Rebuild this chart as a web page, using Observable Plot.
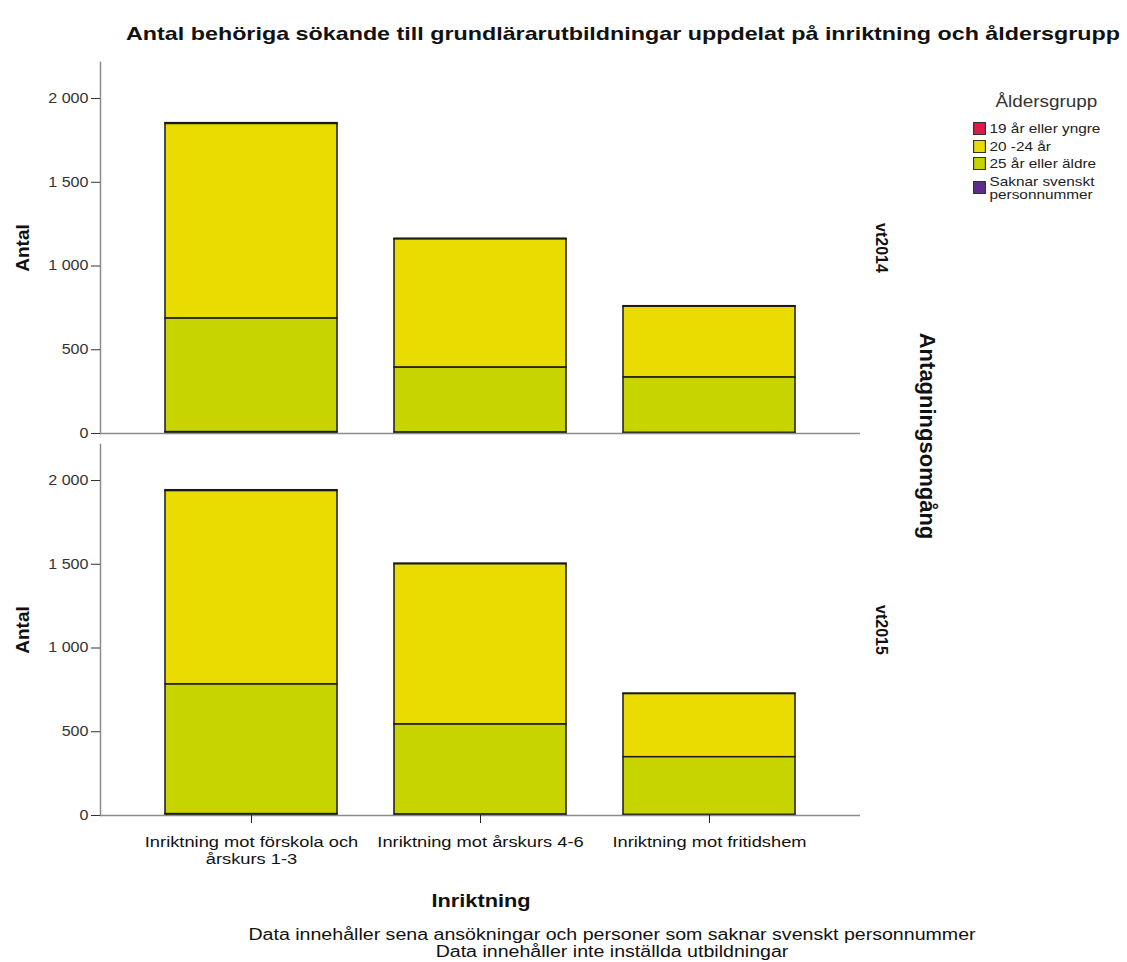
<!DOCTYPE html>
<html><head><meta charset="utf-8">
<script src="https://cdn.jsdelivr.net/npm/d3@7"></script>
<script src="https://cdn.jsdelivr.net/npm/@observablehq/plot@0.6"></script>
<style>
body{margin:0;background:#fff;font-family:"Liberation Sans",Arial,sans-serif;color:#111;}
#wrap{position:relative;width:1127px;height:962px;overflow:hidden;}
#chart{position:absolute;left:0;top:0;}
.abs{position:absolute;white-space:nowrap;}
.leg{position:absolute;left:973px;top:93px;font-size:13px;color:#222;transform:scaleX(1.18);transform-origin:left top;}
.leg .t{font-size:16px;margin-left:19px;margin-bottom:11px;color:#333;}
.leg .it{display:flex;align-items:center;line-height:13px;margin-bottom:4.5px;}
.leg .sw{width:9px;height:11px;border:1px solid #333;margin-right:3px;flex:none;}
</style></head><body><div id="wrap"><div id="chart"></div></div>
<script>
const rounds = ["vt2014", "vt2015"];
const inriktningar = ["Inriktning mot förskola och årskurs 1-3", "Inriktning mot årskurs 4-6", "Inriktning mot fritidshem"];
const tickLabels = ["Inriktning mot förskola och\nårskurs 1-3", "Inriktning mot årskurs 4-6", "Inriktning mot fritidshem"];
const groups = ["19 år eller yngre", "20 -24 år", "25 år eller äldre", "Saknar svenskt personnummer"];
const legendLabels = ["19 år eller yngre", "20 -24 år", "25 år eller äldre", "Saknar svenskt<br>personnummer"];
const colors = ["#e0174b", "#eadc00", "#c8d400", "#5e2c91"];
const stackOrder = ["Saknar svenskt personnummer", "25 år eller äldre", "20 -24 år", "19 år eller yngre"];
const yTicks = [0, 500, 1000, 1500, 2000];

// values per inriktning (förskola/åk1-3, åk4-6, fritidshem)
const vt2014_19 = [5, 4, 3];
const vt2014_20_24 = [1162, 766, 423];
const vt2014_25 = [678, 388, 331];
const vt2014_saknar = [8, 5, 3];
const vt2015_19 = [5, 4, 3];
const vt2015_20_24 = [1155, 957, 377];
const vt2015_25 = [774, 538, 345];
const vt2015_saknar = [8, 5, 3];

const series = {
  vt2014: [vt2014_19, vt2014_20_24, vt2014_25, vt2014_saknar],
  vt2015: [vt2015_19, vt2015_20_24, vt2015_25, vt2015_saknar]
};
const data = [];
for (const r of rounds) {
  series[r].forEach((arr, gi) => {
    arr.forEach((v, i) => data.push({round: r, inriktning: inriktningar[i], group: groups[gi], value: v}));
  });
}
const fmt = d => d3.format(",")(d).replace(/,/g, " ");

const chart = Plot.plot({
  width: 1127,
  height: 870,
  marginTop: 62,
  marginBottom: 55,
  marginLeft: 100,
  marginRight: 267,
  style: {fontFamily: '"Liberation Sans", Arial, sans-serif', background: "white"},
  x: {domain: inriktningar, paddingInner: 0.25, paddingOuter: 0.284},
  y: {domain: [0, 2215]},
  fy: {domain: rounds, paddingInner: 0.029, paddingOuter: 0, axis: null},
  color: {domain: groups, range: colors},
  marks: [
    Plot.barY(data, {x: "inriktning", y: "value", fill: "group", fy: "round", order: stackOrder, stroke: "#1a1a1a", strokeWidth: 1.5}),
    Plot.ruleY([0], {stroke: "#8c8c8c", strokeWidth: 1.5}),
    Plot.frame({anchor: "left", stroke: "#8c8c8c", strokeWidth: 1.5}),
    Plot.axisY({ticks: yTicks, tickFormat: fmt, tickSize: 9, tickPadding: 3, fontSize: 14, stroke: "#333", fill: "#333", label: null}),
    Plot.axisX({tickSize: 8, tickPadding: 11, tickFormat: d => tickLabels[inriktningar.indexOf(d)], fontSize: 15, lineHeight: 1.15, stroke: "#222", fill: "#111", label: null}),
    Plot.text(rounds, {fy: d => d, text: d => d, frameAnchor: "right", textAnchor: "middle", dx: 21, rotate: 90, fontWeight: "bold", fontSize: 16, fill: "#111"}),
    Plot.text(rounds, {fy: d => d, text: () => "Antal", frameAnchor: "left", textAnchor: "middle", dx: -78, rotate: -90, fontWeight: "bold", fontSize: 19, fill: "#111"})
  ]
});
document.getElementById("chart").appendChild(chart);

// reference text is horizontally stretched: widen tick labels
function stretch(sel, k) {
  d3.select(chart).selectAll(sel).each(function() {
    const t = this.getAttribute("transform");
    if (t) this.setAttribute("transform", t + ` scale(${k},1)`);
  });
}
stretch('g[aria-label="x-axis tick label"] text', 1.22);
stretch('g[aria-label="y-axis tick label"] text', 1.15);

const wrap = document.getElementById("wrap");
function addText(txt, x, y, style, k = 1.22, extra = "") {
  const d = document.createElement("div");
  d.className = "abs";
  d.innerHTML = txt;
  d.style.left = x + "px";
  d.style.top = y + "px";
  d.style.transform = `translate(-50%,-50%) ${extra} scaleX(${k})`;
  Object.assign(d.style, style);
  wrap.appendChild(d);
  return d;
}
addText("Antal behöriga sökande till grundlärarutbildningar uppdelat på inriktning och åldersgrupp", 623, 34, {fontSize: "19px", fontWeight: "bold"}, 1.226);
addText("Inriktning", 481, 901, {fontSize: "18px", fontWeight: "bold"}, 1.21);
addText("Data innehåller sena ansökningar och personer som saknar svenskt personnummer", 612, 935, {fontSize: "16px"}, 1.224);
addText("Data innehåller inte inställda utbildningar", 612, 952, {fontSize: "16px"}, 1.224);
addText("Antagningsomgång", 927, 436, {fontSize: "22px", fontWeight: "bold", writingMode: "vertical-rl"}, 1);

const leg = document.createElement("div");
leg.className = "leg";
leg.innerHTML = `<div class="t">Åldersgrupp</div>` + groups.map((g, i) =>
  `<div class="it"><span class="sw" style="background:${colors[i]}"></span><span>${legendLabels[i]}</span></div>`).join("");
wrap.appendChild(leg);
</script>
</body></html>
